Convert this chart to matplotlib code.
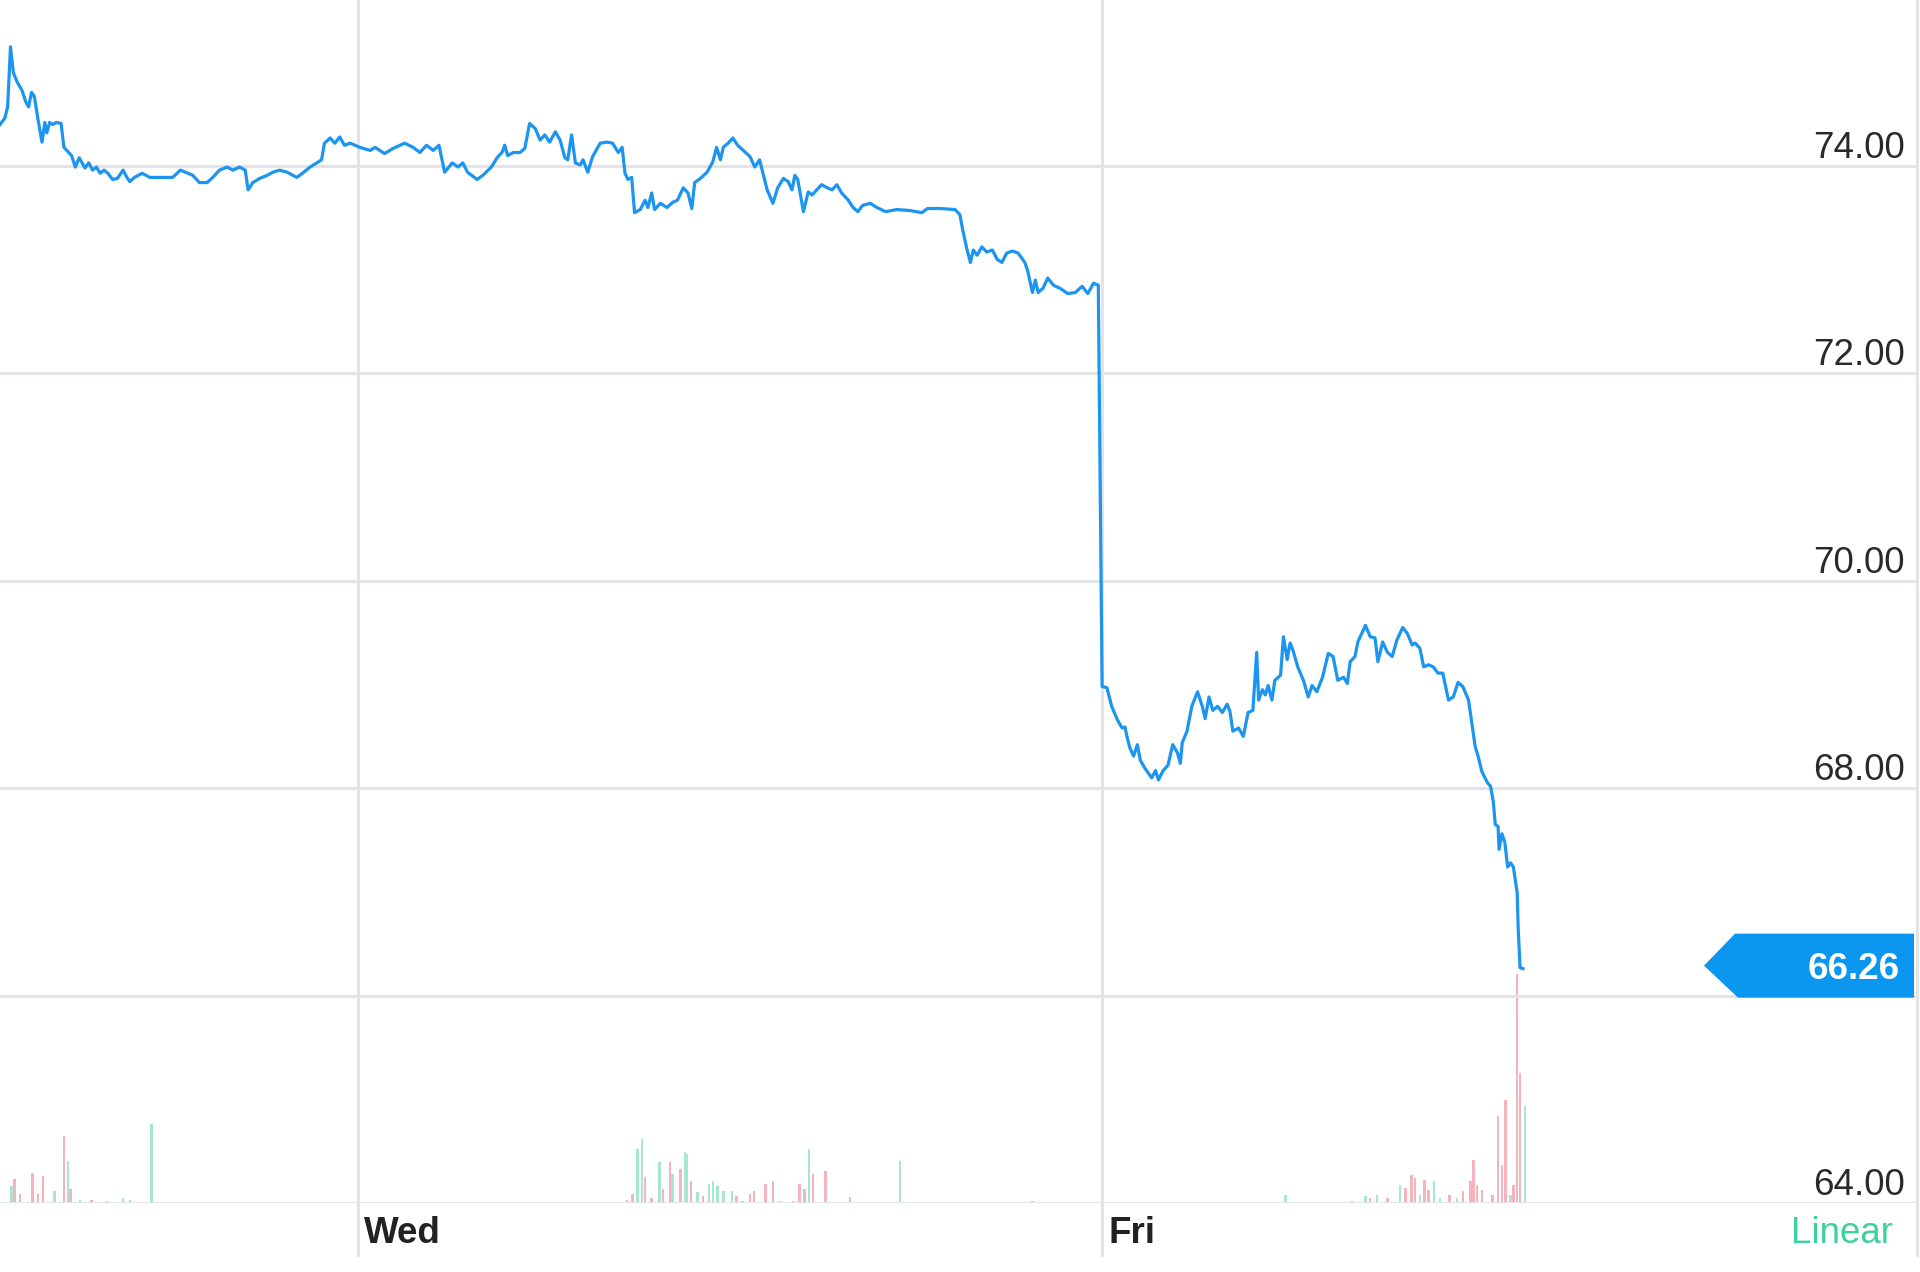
import numpy as np
import matplotlib
matplotlib.use('Agg')
from matplotlib import pyplot as plt
from matplotlib import transforms as mtrans
from matplotlib.patches import Polygon

plt.rcParams['font.family'] = ['Liberation Sans', 'DejaVu Sans']

# time = trading minutes since Tuesday's open (390 min per session)
tue_min = [15, 20, 23, 26, 29, 33, 38, 42, 45, 48, 51, 55, 59, 62, 64, 67, 70, 74, 79, 82,
           86, 90, 94, 98, 101, 104, 108, 112, 116, 120, 124, 128, 133, 138, 144, 148, 151,
           156, 164, 172, 182, 196, 204, 212, 217, 224, 232, 238, 245, 253, 259, 266, 272,
           275, 280, 287, 295, 301, 308, 316, 326, 332, 340, 347, 352, 355, 361, 366, 371,
           376, 382]
tue_px = [74.40, 74.46, 74.57, 75.15, 74.90, 74.81, 74.73, 74.62, 74.57, 74.71, 74.67, 74.44,
          74.23, 74.42, 74.32, 74.42, 74.40, 74.42, 74.41, 74.18, 74.14, 74.10, 73.99, 74.08,
          74.03, 73.98, 74.03, 73.96, 73.99, 73.93, 73.96, 73.93, 73.87, 73.88, 73.96, 73.89,
          73.85, 73.89, 73.93, 73.89, 73.89, 73.89, 73.96, 73.93, 73.91, 73.84, 73.84, 73.89,
          73.96, 73.99, 73.96, 73.99, 73.96, 73.77, 73.84, 73.88, 73.91, 73.94, 73.96, 73.94,
          73.89, 73.93, 73.99, 74.03, 74.06, 74.22, 74.27, 74.22, 74.28, 74.20, 74.22]

wed_min = [392, 403, 408, 418, 427, 439, 448, 455, 462, 469, 475, 481, 489, 495, 500, 505,
           515, 521, 530, 536, 541, 544, 547, 553, 560, 565, 570, 576, 581, 586, 591, 597,
           602, 607, 610, 614, 618, 623, 626, 631, 636, 644, 651, 657, 663, 667, 670, 673,
           677, 680, 686, 691, 694, 698, 701, 707, 714, 720, 725, 731, 736, 740, 743, 749,
           756, 762, 766, 770, 773, 778]
wed_px = [74.18, 74.15, 74.18, 74.12, 74.17, 74.22, 74.18, 74.13, 74.20, 74.15, 74.20, 73.94,
          74.03, 73.99, 74.03, 73.94, 73.87, 73.91, 73.99, 74.08, 74.13, 74.20, 74.10, 74.13,
          74.13, 74.17, 74.41, 74.36, 74.25, 74.30, 74.23, 74.33, 74.25, 74.08, 74.06, 74.30,
          74.03, 74.01, 74.06, 73.94, 74.09, 74.22, 74.23, 74.22, 74.13, 74.18, 73.93, 73.87,
          73.89, 73.55, 73.58, 73.67, 73.60, 73.74, 73.58, 73.64, 73.60, 73.65, 73.67, 73.79,
          73.74, 73.59, 73.84, 73.88, 73.94, 74.04, 74.18, 74.06, 74.18, 74.22]

thu_min = [783, 788, 794, 801, 806, 811, 819, 825, 830, 836, 841, 845, 848, 851, 857, 862,
           866, 871, 876, 882, 887, 892, 897, 904, 909, 914, 919, 927, 934, 943, 955, 969,
           981, 987, 1000, 1016, 1021, 1024, 1028, 1032, 1035, 1039, 1044, 1049, 1055, 1060,
           1065, 1070, 1076, 1082, 1089, 1092, 1097, 1100, 1103, 1108, 1113, 1119, 1126, 1134,
           1142, 1149, 1155, 1161, 1166]
thu_px = [74.27, 74.20, 74.15, 74.09, 73.99, 74.06, 73.77, 73.64, 73.79, 73.88, 73.85, 73.77,
          73.91, 73.87, 73.56, 73.75, 73.72, 73.77, 73.82, 73.79, 73.77, 73.82, 73.74, 73.67,
          73.60, 73.56, 73.62, 73.64, 73.60, 73.56, 73.58, 73.57, 73.55, 73.59, 73.59, 73.58,
          73.53, 73.38, 73.21, 73.07, 73.19, 73.14, 73.22, 73.17, 73.19, 73.10, 73.07, 73.16,
          73.18, 73.16, 73.07, 72.99, 72.78, 72.90, 72.78, 72.82, 72.92, 72.85, 72.82, 72.77,
          72.78, 72.84, 72.77, 72.87, 72.85]

fri_min = [1170, 1175, 1180, 1186, 1191, 1194, 1196, 1199, 1203, 1207, 1210, 1215, 1222, 1226,
           1229, 1234, 1239, 1244, 1249, 1252, 1254, 1259, 1264, 1270, 1275, 1278, 1282, 1286,
           1291, 1296, 1301, 1304, 1307, 1313, 1318, 1323, 1328, 1332, 1334, 1338, 1341, 1344,
           1348, 1351, 1357, 1360, 1364, 1367, 1370, 1375, 1381, 1386, 1390, 1395, 1401, 1407,
           1412, 1417, 1423, 1427, 1430, 1435, 1438, 1446, 1451, 1456, 1459, 1464, 1469, 1474,
           1479, 1485, 1490, 1495, 1498, 1503, 1507, 1512, 1517, 1522, 1527, 1533, 1538, 1543,
           1548, 1554, 1558, 1561, 1564, 1568, 1574, 1577, 1580, 1582, 1585, 1586, 1589, 1592,
           1595, 1598, 1601, 1605, 1606, 1608, 1611]
fri_px = [68.98, 68.97, 68.79, 68.66, 68.58, 68.59, 68.50, 68.39, 68.31, 68.42, 68.27, 68.19,
          68.10, 68.17, 68.08, 68.17, 68.22, 68.42, 68.34, 68.24, 68.44, 68.55, 68.79, 68.93,
          68.79, 68.67, 68.88, 68.75, 68.79, 68.73, 68.81, 68.74, 68.55, 68.58, 68.50, 68.73,
          68.75, 69.31, 68.85, 68.95, 68.90, 68.99, 68.85, 69.04, 69.09, 69.46, 69.24, 69.40,
          69.33, 69.17, 69.04, 68.88, 68.99, 68.93, 69.07, 69.30, 69.27, 69.04, 69.07, 69.01,
          69.22, 69.27, 69.41, 69.57, 69.46, 69.45, 69.22, 69.41, 69.31, 69.27, 69.43, 69.55,
          69.49, 69.38, 69.40, 69.35, 69.17, 69.19, 69.17, 69.11, 69.11, 68.85, 68.88, 69.02,
          68.98, 68.85, 68.59, 68.40, 68.31, 68.16, 68.05, 68.02, 67.87, 67.65, 67.63, 67.41,
          67.56, 67.48, 67.24, 67.28, 67.24, 66.99, 66.66, 66.27, 66.26]

# volume (thousand shares), 1 = up bar, 0 = down bar
vol_min = [27, 30, 36, 49, 55, 60, 72, 82, 86, 89, 99, 111, 127, 144, 151, 174,
           672, 678, 683, 688, 691, 698, 706, 710, 717, 720, 728, 733, 735, 739, 746, 752,
           758, 762, 767, 773, 782, 787, 793, 801, 805, 817, 825, 832, 846, 853, 858, 863,
           867, 880, 906, 958, 1097,
           1362, 1432, 1446, 1451, 1458, 1469, 1482, 1488, 1494, 1498, 1503, 1508, 1512,
           1518, 1524, 1534, 1542, 1548, 1556, 1559, 1563, 1568, 1579, 1585, 1589, 1593,
           1598, 1601, 1605, 1608, 1613]
vol_k = [17, 24, 9, 30, 9, 27, 12, 67, 42, 14, 3, 3, 2, 5, 3, 79,
         3, 9, 54, 64, 26, 5, 41, 14, 41, 29, 34, 51, 49, 22, 11, 7,
         19, 22, 17, 12, 12, 7, 2, 9, 12, 19, 22, 2, 2, 19, 14, 54,
         29, 32, 6, 42, 2,
         8, 2, 7, 5, 8, 5, 18, 15, 28, 25, 8, 23, 13,
         22, 5, 8, 5, 12, 22, 43, 18, 13, 8, 87, 38, 103,
         8, 18, 229, 130, 97]
vol_up = [1, 0, 0, 0, 0, 0, 1, 0, 1, 0, 1, 0, 1, 1, 1, 1,
          0, 0, 1, 1, 0, 0, 1, 0, 0, 1, 0, 1, 1, 0, 1, 0,
          1, 1, 1, 1, 1, 0, 0, 0, 0, 0, 0, 1, 0, 0, 0, 1,
          0, 0, 0, 1, 0,
          1, 0, 1, 0, 1, 0, 1, 0, 0, 0, 1, 0, 0,
          1, 1, 0, 1, 0, 0, 0, 0, 0, 0, 0, 0, 0,
          1, 0, 0, 0, 1]

day_labels = ['Wed', 'Fri']
day_min = [390, 1170]
y_ticks = [64, 66, 68, 70, 72, 74]
last_price = 66.26

price_min = tue_min + wed_min + thu_min + fri_min
price = tue_px + wed_px + thu_px + fri_px

grid_color = '#e3e3e9'
line_color = '#1b95ef'
fs = 26.5
px = 0.72  # pixels -> points at dpi 100

fig = plt.figure(figsize=(19.2, 12.72), dpi=100)
ax_vol = fig.add_axes([0, 69 / 1272, 1917 / 1920, 1203 / 1272])
ax = ax_vol.twinx()
for a in (ax_vol, ax):
    a.set_axis_off()

ax_vol.set_xlim(15, 2024)
ax_vol.set_ylim(0, 1203)
ax.set_ylim(64, 64 + 1203 / 103.7)

bar_colors = ['#93e2c4' if u else '#f6a0aa' for u in vol_up]
ax_vol.bar(vol_min, vol_k, width=2.6, color=bar_colors, alpha=0.8, linewidth=0)

# grid
for v in y_ticks:
    ax.axhline(v, color=grid_color, lw=2.2, zorder=0)
for m in day_min:
    ax.axvline(m, ymin=-52 / 1203, ymax=1, color=grid_color, lw=2.2, clip_on=False, zorder=0)
ax.plot([1, 1], [-52 / 1203, 1], transform=ax.transAxes, color=grid_color, lw=2.2,
        clip_on=False)

ax.plot(price_min, price, color=line_color, lw=2.3, solid_joinstyle='round', zorder=3)

# price labels (the one under the last-price flag is hidden)
for v in y_ticks:
    if abs(v - last_price) < 0.5:
        continue
    ax.annotate(f'{v:.2f}', xy=(1, v), xycoords=('axes fraction', 'data'),
                xytext=(-12 * px, 8 * px), textcoords='offset points',
                ha='right', va='baseline', fontsize=fs, color='#2a2a2a', zorder=4)

for lab, m in zip(day_labels, day_min):
    ax.annotate(lab, xy=(m, 0), xycoords=('data', 'axes fraction'),
                xytext=(6 * px, -40 * px), textcoords='offset points',
                ha='left', va='baseline', fontsize=fs, fontweight='bold', color='#222222',
                annotation_clip=False)

ax.annotate('Linear', xy=(1, 0), xycoords='axes fraction',
            xytext=(-24 * px, -40 * px), textcoords='offset points',
            ha='right', va='baseline', fontsize=fs, color='#3dd1a0', annotation_clip=False)

# last price flag
flag_trans = mtrans.Affine2D().scale(fig.dpi / 72) + \
    mtrans.ScaledTranslation(1, last_price, ax.get_yaxis_transform())
flag_pts = np.array([[-213, 3], [-182, 35], [-3, 35], [-3, -29], [-179, -29]]) * px
ax.add_patch(Polygon(flag_pts, closed=True, transform=flag_trans, facecolor='#0b97f0',
                     edgecolor='none', zorder=5, clip_on=False))
ax.annotate(f'{last_price:.2f}', xy=(1, last_price), xycoords=('axes fraction', 'data'),
            xytext=(-17 * px, -10 * px), textcoords='offset points',
            ha='right', va='baseline', fontsize=fs, fontweight='bold', color='white', zorder=6)

plt.savefig('out.png', dpi=100, facecolor='white')
print('Complete')
